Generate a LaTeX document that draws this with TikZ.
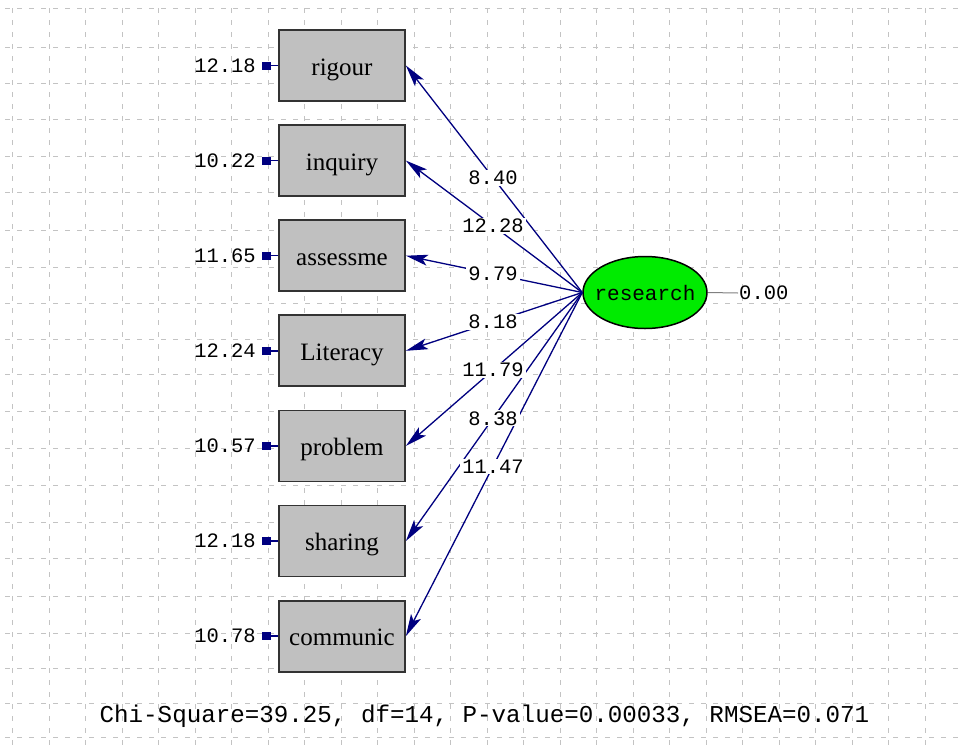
\documentclass[tikz,border=0pt]{standalone}
\usepackage{fontspec}
\setmainfont{Liberation Serif}
\newfontfamily\monofont{Liberation Mono}
\usetikzlibrary{arrows.meta,shapes.geometric,calc}
\definecolor{pathblue}{RGB}{0,0,128}
\definecolor{boxgray}{RGB}{192,192,192}
\definecolor{gridgray}{RGB}{195,195,195}
\definecolor{latentgreen}{RGB}{0,235,0}
\tikzset{
  gridline/.style={draw=gridgray, line width=1pt, dash pattern=on 5pt off 7pt},
  obsbox/.style={draw=black!80, line width=1.8pt, fill=boxgray, minimum width=126pt,
    minimum height=71pt, inner sep=0pt, text height=22pt, text depth=3pt,
    font=\fontsize{25}{30}\selectfont},
  latent/.style={ellipse, draw=black, line width=1.5pt, fill=latentgreen,
    minimum width=124pt, minimum height=72pt, inner sep=0pt,
    font=\monofont\fontsize{21}{25}\selectfont},
  loading/.style={draw=pathblue, line width=1.3pt,
    -{Stealth[length=22pt,width=11pt,inset=5pt]}},
  errpath/.style={draw=pathblue, line width=1.5pt, -{Rectangle[length=9pt,width=8pt]}},
  numlabel/.style={font=\monofont\fontsize{20.5}{24}\selectfont, inner sep=1pt},
  coeflabel/.style={numlabel, fill=white, inner xsep=2pt, inner ysep=1pt},
}
\begin{document}
\begin{tikzpicture}[x=1pt,y=-1pt]
\useasboundingbox (0,0) rectangle (962,745);
\fill[white] (0,0) rectangle (962,745);

% background grid
\foreach \gx in {0,...,25}
  \draw[gridline] ({12.5+36.5*\gx},8) -- ({12.5+36.5*\gx},745);
\foreach \gy in {8,47,83,119,156,192,230,267,303,339,374,411,448,485,522,558,596,633,668,703,737}
  \draw[gridline] (5,\gy) -- (962,\gy);

% latent variable (text boxed to zero width so the ellipse keeps its set size)
\node[latent] (res) at (645,292.5) {\makebox[0pt]{research}};
\node[numlabel, anchor=west] (rv) at (738,293) {0.00};
\draw[gray, line width=1pt] (res.east) -- (rv.west);

% observed indicators with error variances
\foreach \i/\name/\err in {1/rigour/12.18, 2/inquiry/10.22, 3/assessme/11.65,
    4/Literacy/12.24, 5/problem/10.57, 6/sharing/12.18, 7/communic/10.78}{
  \pgfmathsetmacro\yy{65.5+95.1*(\i-1)}
  \node[obsbox] (b\i) at (342,\yy) {\name};
  \coordinate (t\i) at (262,\yy);
  \draw[errpath] (b\i.west) -- (t\i);
  \node[numlabel, anchor=east] (v\i) at (257,\yy) {\err};
}

% factor loadings
\foreach \i in {1,...,7}
  \draw[loading] (res.west) -- (b\i.east);
\foreach \i/\load in {1/8.40, 2/12.28, 3/9.79, 4/8.18, 5/11.79, 6/8.38, 7/11.47}
  \node[coeflabel] (c\i) at ($(res.west)!0.506!(b\i.east)$) {\load};

% fit statistics
\node[numlabel, font=\monofont\fontsize{24.2}{28}\selectfont] (fit) at (484.5,716)
  {Chi-Square=39.25, df=14, P-value=0.00033, RMSEA=0.071};
\end{tikzpicture}
\end{document}
